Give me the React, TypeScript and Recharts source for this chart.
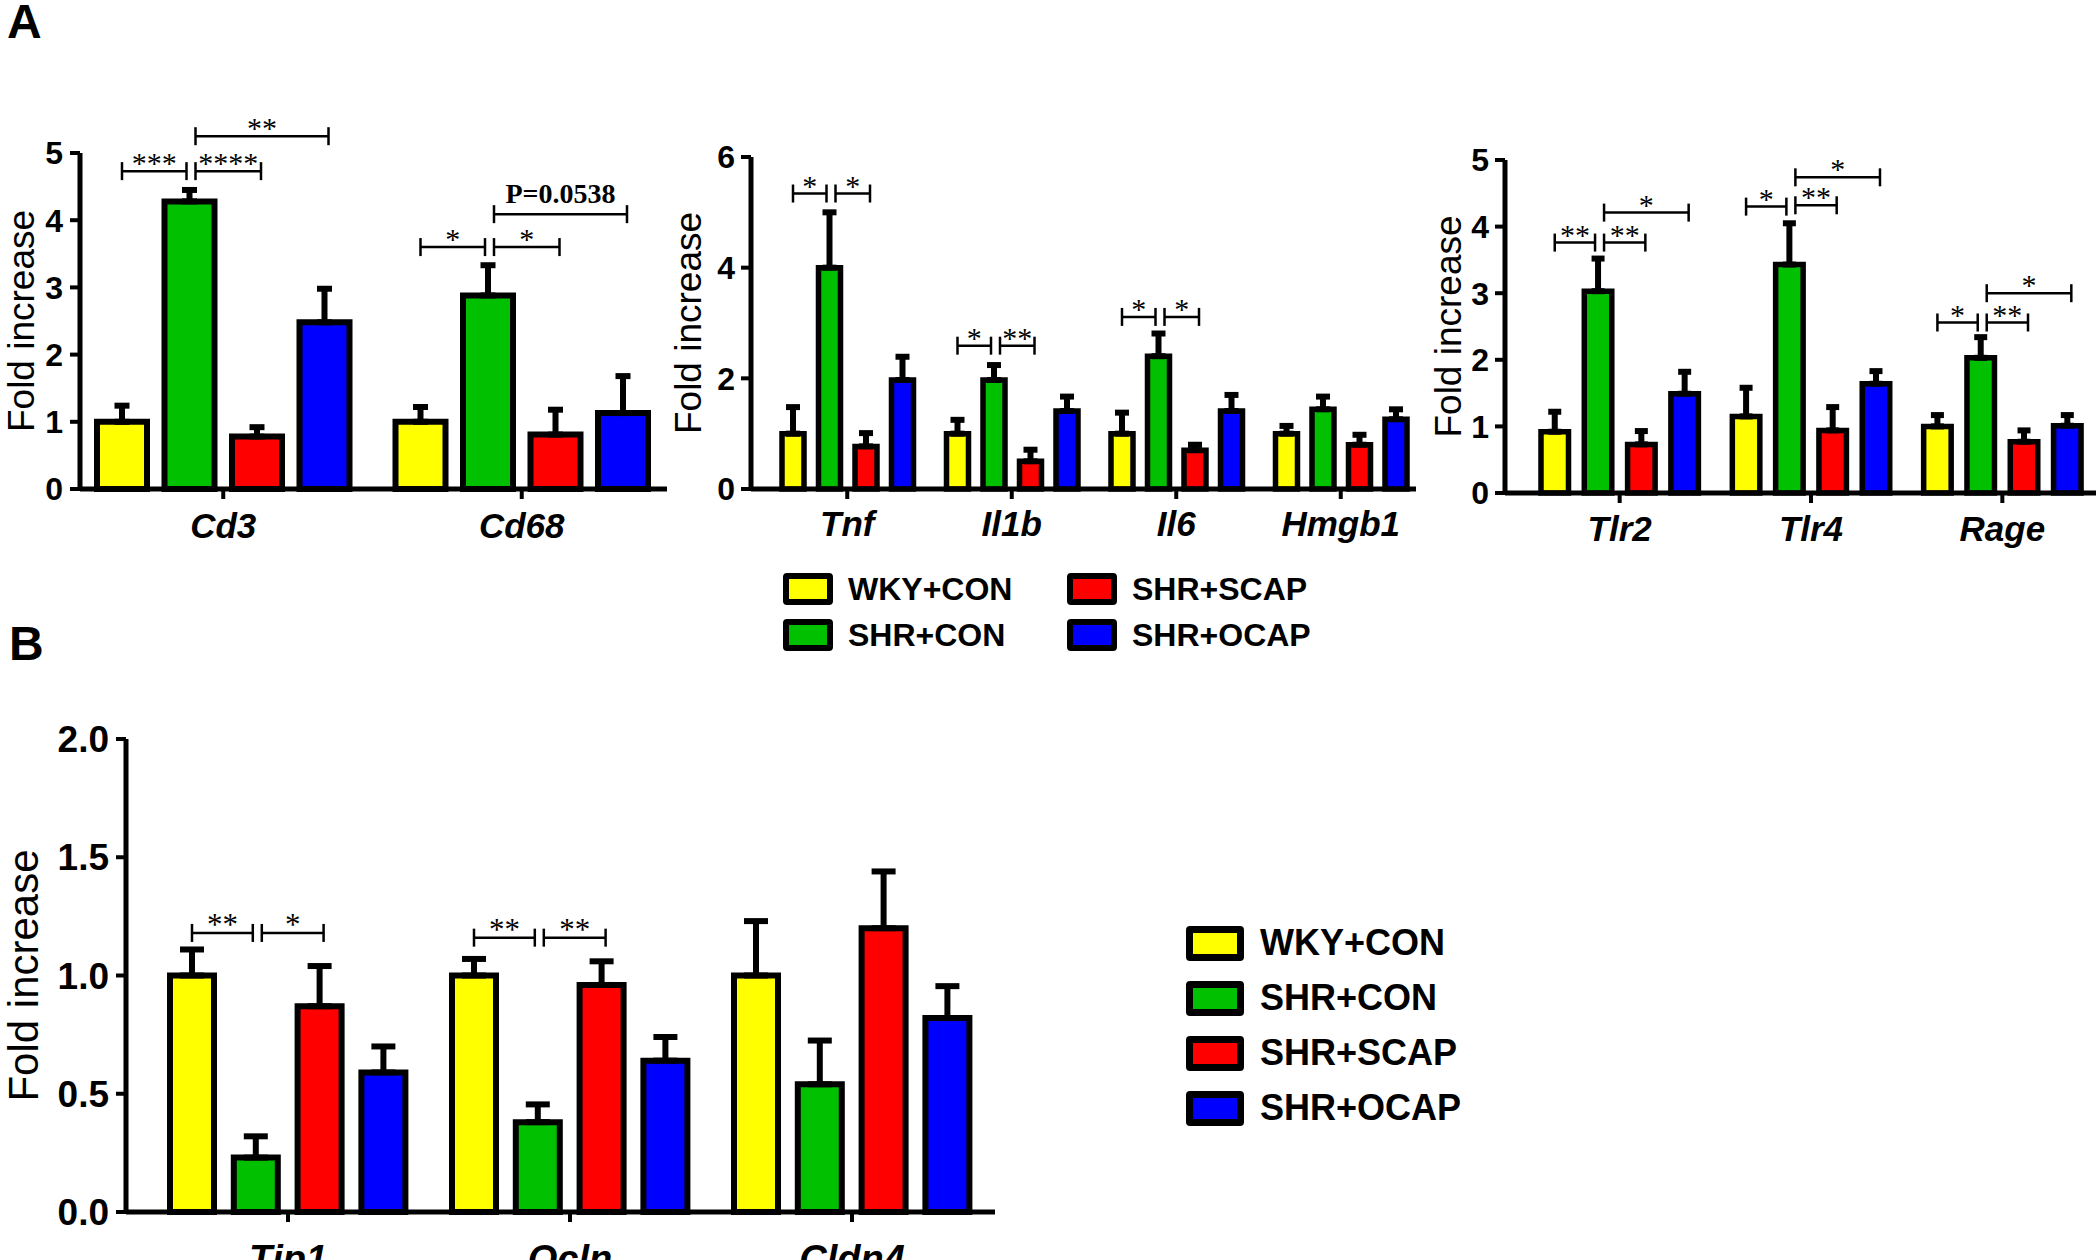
import React from "react";
import { BarChart, Bar, XAxis, YAxis, ErrorBar, LabelList, Legend } from "recharts";

// groups (series)
const groupNames = ["WKY+CON", "SHR+CON", "SHR+SCAP", "SHR+OCAP"];
const groupKeys = ["wky", "shr", "scap", "ocap"];
const groupColors = ["#FFFF00", "#00C000", "#FF0000", "#0000FF"];

// panel A, left: immune cell markers
const a1Genes = ["Cd3", "Cd68"];
const a1Wky = [1.0, 1.0];
const a1Shr = [4.28, 2.88];
const a1Scap = [0.78, 0.81];
const a1Ocap = [2.48, 1.13];
const a1WkyErr = [0.24, 0.22];
const a1ShrErr = [0.17, 0.45];
const a1ScapErr = [0.14, 0.37];
const a1OcapErr = [0.5, 0.55];
const a1Ticks = [0, 1, 2, 3, 4, 5];
const a1Brackets = [
  [
    { to: "wky", at: 4.73, text: "***" },
    { to: "scap", at: 4.73, text: "****" },
    { to: "ocap", at: 5.25, text: "**" },
  ],
  [
    { to: "wky", at: 3.6, text: "*" },
    { to: "scap", at: 3.6, text: "*" },
    { to: "ocap", at: 4.09, text: "P=0.0538" },
  ],
];

// panel A, middle: cytokines
const a2Genes = ["Tnf", "Il1b", "Il6", "Hmgb1"];
const a2Wky = [1.0, 1.0, 1.0, 1.0];
const a2Shr = [4.0, 1.97, 2.4, 1.44];
const a2Scap = [0.77, 0.5, 0.7, 0.8];
const a2Ocap = [1.97, 1.41, 1.41, 1.26];
const a2WkyErr = [0.48, 0.25, 0.38, 0.14];
const a2ShrErr = [1.0, 0.27, 0.41, 0.23];
const a2ScapErr = [0.24, 0.21, 0.1, 0.18];
const a2OcapErr = [0.42, 0.26, 0.29, 0.18];
const a2Ticks = [0, 2, 4, 6];
const a2Brackets = [
  [
    { to: "wky", at: 5.34, text: "*" },
    { to: "scap", at: 5.34, text: "*" },
  ],
  [
    { to: "wky", at: 2.59, text: "*" },
    { to: "scap", at: 2.59, text: "**" },
  ],
  [
    { to: "wky", at: 3.11, text: "*" },
    { to: "scap", at: 3.11, text: "*" },
  ],
  [],
];

// panel A, right: receptors
const a3Genes = ["Tlr2", "Tlr4", "Rage"];
const a3Wky = [0.92, 1.15, 1.0];
const a3Shr = [3.03, 3.43, 2.03];
const a3Scap = [0.73, 0.94, 0.77];
const a3Ocap = [1.49, 1.64, 1.01];
const a3WkyErr = [0.3, 0.43, 0.17];
const a3ShrErr = [0.49, 0.62, 0.31];
const a3ScapErr = [0.2, 0.35, 0.17];
const a3OcapErr = [0.33, 0.19, 0.16];
const a3Ticks = [0, 1, 2, 3, 4, 5];
const a3Brackets = [
  [
    { to: "wky", at: 3.76, text: "**" },
    { to: "scap", at: 3.76, text: "**" },
    { to: "ocap", at: 4.21, text: "*" },
  ],
  [
    { to: "wky", at: 4.3, text: "*" },
    { to: "scap", at: 4.32, text: "**" },
    { to: "ocap", at: 4.74, text: "*" },
  ],
  [
    { to: "wky", at: 2.56, text: "*" },
    { to: "scap", at: 2.56, text: "**" },
    { to: "ocap", at: 3.0, text: "*" },
  ],
];

// panel B: tight junction proteins
const bGenes = ["Tjp1", "Ocln", "Cldn4"];
const bWky = [1.0, 1.0, 1.0];
const bShr = [0.23, 0.38, 0.54];
const bScap = [0.87, 0.96, 1.2];
const bOcap = [0.59, 0.64, 0.82];
const bWkyErr = [0.11, 0.07, 0.23];
const bShrErr = [0.09, 0.075, 0.185];
const bScapErr = [0.17, 0.1, 0.24];
const bOcapErr = [0.11, 0.1, 0.135];
const bTicks = [0, 0.5, 1, 1.5, 2];
const bBrackets = [
  [
    { to: "wky", at: 1.18, text: "**" },
    { to: "scap", at: 1.18, text: "*" },
  ],
  [
    { to: "wky", at: 1.16, text: "**" },
    { to: "scap", at: 1.16, text: "**" },
  ],
  [],
];

const SANS = "'Liberation Sans', Arial, Helvetica, sans-serif";
const SERIF = "'Liberation Serif', 'Times New Roman', serif";

function buildRows(genes, means, errs) {
  return genes.map((gene, i) => {
    const row = { gene };
    groupKeys.forEach((k, g) => {
      row[k] = means[g][i];
      row[k + "Err"] = [0, errs[g][i]];
    });
    return row;
  });
}

// brackets are hung on the SHR+CON bar of each gene, every comparison involves it
function Brackets(props) {
  const { viewBox, index, rows, brackets, step, starSize } = props;
  const list = brackets[index];
  if (!viewBox || !list || list.length === 0) return null;
  const { x, y, width, height } = viewBox;
  const base = y + height;
  const perUnit = height / rows[index].shr;
  const cx = x + width / 2;
  return (
    <g>
      {list.map((b, i) => {
        const k = groupKeys.indexOf(b.to) - 1;
        const tx = cx + k * step;
        const x1 = k < 0 ? tx : cx + 6;
        const x2 = k < 0 ? cx - 3 : tx + 4;
        const ly = base - b.at * perUnit;
        const isP = b.text.startsWith("P");
        return (
          <g key={i}>
            <line x1={x1} x2={x2} y1={ly} y2={ly} stroke="#000" strokeWidth={2.5} />
            <line x1={x1} x2={x1} y1={ly - 9} y2={ly + 9} stroke="#000" strokeWidth={2.5} />
            <line x1={x2} x2={x2} y1={ly - 9} y2={ly + 9} stroke="#000" strokeWidth={2.5} />
            <text
              x={(x1 + x2) / 2}
              y={isP ? ly - 11 : ly + 2}
              textAnchor="middle"
              fontFamily={SERIF}
              fontSize={isP ? 28 : starSize}
              fontWeight={isP ? "bold" : "normal"}
              fill="#000"
            >
              {b.text}
            </text>
          </g>
        );
      })}
    </g>
  );
}

function LegendBox({ color, w, h, border, size, gap, label }) {
  return (
    <div style={{ display: "flex", alignItems: "center" }}>
      <div
        style={{
          width: w,
          height: h,
          boxSizing: "border-box",
          border: `${border}px solid #000`,
          borderRadius: 4,
          background: color,
        }}
      />
      <span
        style={{
          marginLeft: gap,
          fontFamily: SANS,
          fontWeight: "bold",
          fontSize: size,
          lineHeight: 1,
          color: "#000",
          whiteSpace: "nowrap",
        }}
      >
        {label}
      </span>
    </div>
  );
}

function LegendA() {
  const order = [0, 2, 1, 3];
  return (
    <div style={{ display: "grid", gridTemplateColumns: "284px 260px", rowGap: 14 }}>
      {order.map((g) => (
        <LegendBox
          key={g}
          color={groupColors[g]}
          w={50}
          h={32}
          border={6}
          size={32}
          gap={15}
          label={groupNames[g]}
        />
      ))}
    </div>
  );
}

function LegendB() {
  return (
    <div style={{ display: "flex", flexDirection: "column", gap: 19 }}>
      {groupNames.map((name, g) => (
        <LegendBox
          key={g}
          color={groupColors[g]}
          w={58}
          h={35}
          border={7}
          size={36}
          gap={16}
          label={name}
        />
      ))}
    </div>
  );
}

function Panel({ rows, brackets, ticks, fmt, geo, legend }) {
  const width = geo.axisEnd + 10;
  const height = geo.bottom + 80;
  const step = geo.barSize + geo.barGap;
  const yLabel = (p) => {
    const vb = p.viewBox || {};
    const cy = vb.height ? vb.y + vb.height / 2 : (geo.top + geo.bottom) / 2;
    return (
      <text
        transform={`translate(${geo.labelX},${cy}) rotate(-90)`}
        textAnchor="middle"
        dominantBaseline="central"
        fontFamily={SANS}
        fontSize={geo.yLabelSize}
        fill="#000"
      >
        Fold increase
      </text>
    );
  };
  return (
    <div style={{ position: "absolute", left: 0, top: 0 }}>
      <BarChart
        width={width}
        height={height}
        data={rows}
        margin={{ top: geo.top, right: 10, bottom: 10, left: 0 }}
        barSize={geo.barSize}
        barGap={geo.barGap}
      >
        <XAxis
          dataKey="gene"
          height={70}
          interval={0}
          padding={{ left: geo.padL, right: geo.padR }}
          axisLine={{ stroke: "#000", strokeWidth: 5 }}
          tickLine={{ stroke: "#000", strokeWidth: 4 }}
          tickSize={10}
          tickMargin={geo.catMargin}
          tick={{
            fill: "#000",
            fontSize: geo.catSize,
            fontWeight: "bold",
            fontStyle: "italic",
            fontFamily: SANS,
          }}
        />
        <YAxis
          width={geo.axisX}
          domain={[0, ticks[ticks.length - 1]]}
          ticks={ticks}
          interval={0}
          tickFormatter={fmt}
          axisLine={{ stroke: "#000", strokeWidth: 5 }}
          tickLine={{ stroke: "#000", strokeWidth: 4 }}
          tickSize={10}
          tickMargin={geo.numMargin}
          tick={{ fill: "#000", fontSize: geo.numSize, fontWeight: "bold", fontFamily: SANS }}
          label={yLabel}
        />
        {groupKeys.map((k, g) => (
          <Bar
            key={k}
            dataKey={k}
            name={groupNames[g]}
            fill={groupColors[g]}
            stroke="#000"
            strokeWidth={geo.stroke}
            isAnimationActive={false}
          >
            <ErrorBar
              dataKey={k + "Err"}
              direction="y"
              width={geo.capHalf}
              stroke="#000"
              strokeWidth={6}
            />
            {k === "shr" ? (
              <LabelList
                dataKey="shr"
                content={(p) => (
                  <Brackets
                    {...p}
                    rows={rows}
                    brackets={brackets}
                    step={step}
                    starSize={geo.starSize}
                  />
                )}
              />
            ) : null}
          </Bar>
        ))}
        {legend ? (
          <Legend
            layout="vertical"
            verticalAlign="middle"
            align="center"
            wrapperStyle={legend.style}
            content={legend.content}
          />
        ) : null}
      </BarChart>
    </div>
  );
}

const a1Rows = buildRows(a1Genes, [a1Wky, a1Shr, a1Scap, a1Ocap], [a1WkyErr, a1ShrErr, a1ScapErr, a1OcapErr]);
const a2Rows = buildRows(a2Genes, [a2Wky, a2Shr, a2Scap, a2Ocap], [a2WkyErr, a2ShrErr, a2ScapErr, a2OcapErr]);
const a3Rows = buildRows(a3Genes, [a3Wky, a3Shr, a3Scap, a3Ocap], [a3WkyErr, a3ShrErr, a3ScapErr, a3OcapErr]);
const bRows = buildRows(bGenes, [bWky, bShr, bScap, bOcap], [bWkyErr, bShrErr, bScapErr, bOcapErr]);

const intFmt = (v) => String(v);
const oneDec = (v) => Number(v).toFixed(1);

const a1Geo = {
  axisX: 80, axisEnd: 667, top: 153, bottom: 489, padL: -6, padR: -4,
  barSize: 50, barGap: 17.5, stroke: 6, capHalf: 7.5, labelX: 21,
  yLabelSize: 37, numSize: 32, numMargin: 7, catSize: 35, catMargin: 14, starSize: 30,
};
const a2Geo = {
  axisX: 751, axisEnd: 1416, top: 157, bottom: 489, padL: 14, padR: -7,
  barSize: 22, barGap: 14.5, stroke: 5.5, capHalf: 7, labelX: 688,
  yLabelSize: 37, numSize: 32, numMargin: 6, catSize: 35, catMargin: 12, starSize: 30,
};
const a3Geo = {
  axisX: 1505, axisEnd: 2096, top: 160, bottom: 493, padL: 19, padR: -2,
  barSize: 27.5, barGap: 15.8, stroke: 5.5, capHalf: 6.5, labelX: 1448,
  yLabelSize: 37, numSize: 32, numMargin: 6, catSize: 35, catMargin: 13, starSize: 30,
};
const bGeo = {
  axisX: 126, axisEnd: 995, top: 739, bottom: 1212, padL: 21, padR: 2,
  barSize: 44, barGap: 19.8, stroke: 6, capHalf: 12, labelX: 23,
  yLabelSize: 42, numSize: 37, numMargin: 7, catSize: 38, catMargin: 23, starSize: 31,
};

export default function App() {
  return (
    <div
      style={{
        position: "fixed",
        left: 0,
        top: 0,
        width: 2100,
        height: 1260,
        overflow: "hidden",
        background: "#fff",
      }}
    >
      <Panel rows={a1Rows} brackets={a1Brackets} ticks={a1Ticks} fmt={intFmt} geo={a1Geo} />
      <Panel
        rows={a2Rows}
        brackets={a2Brackets}
        ticks={a2Ticks}
        fmt={intFmt}
        geo={a2Geo}
        legend={{ style: { left: 783, top: 573, width: 600, height: 90 }, content: LegendA }}
      />
      <Panel rows={a3Rows} brackets={a3Brackets} ticks={a3Ticks} fmt={intFmt} geo={a3Geo} />
      <Panel
        rows={bRows}
        brackets={bBrackets}
        ticks={bTicks}
        fmt={oneDec}
        geo={bGeo}
        legend={{ style: { left: 1186, top: 925, width: 400, height: 220 }, content: LegendB }}
      />
      <svg width={2100} height={1260} style={{ position: "absolute", left: 0, top: 0, pointerEvents: "none" }}>
        <text x={7} y={38} fontFamily={SANS} fontWeight="bold" fontSize={48} fill="#000">
          A
        </text>
        <text x={9} y={660} fontFamily={SANS} fontWeight="bold" fontSize={48} fill="#000">
          B
        </text>
      </svg>
    </div>
  );
}
